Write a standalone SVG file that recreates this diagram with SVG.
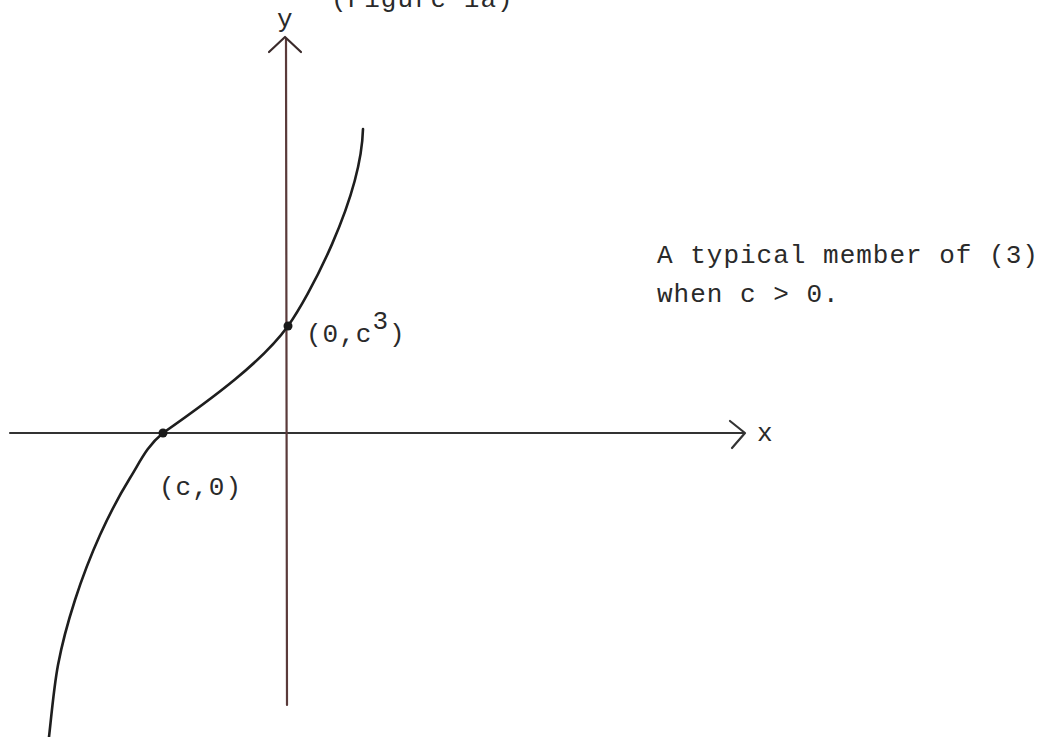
<svg xmlns="http://www.w3.org/2000/svg" width="1039" height="737" viewBox="0 0 1039 737">
<style>
.t{font-family:"Liberation Mono","Courier New",monospace;font-size:26px;letter-spacing:1px;fill:#2a2a2a}
.ax{fill:none;stroke-width:2.2;stroke-linecap:round;stroke-linejoin:round}
.curve{fill:none;stroke:#1e1e1e;stroke-width:2.6;stroke-linecap:round}
.dot{fill:#1a1a1a}
</style>
<rect x="0" y="0" width="1039" height="737" fill="#ffffff"/>
<g id="title"><text class="t" x="331" y="7">(Figure 1a)</text></g>
<g id="connectors">
  <g id="x-axis">
    <line class="ax" stroke="#333333" x1="10" y1="433" x2="744" y2="433"/>
    <polyline class="ax" stroke="#333333" points="730,421 745,433 732,448"/>
  </g>
  <g id="y-axis">
    <line class="ax" stroke="#5a3a3a" x1="286" y1="39" x2="287" y2="705"/>
    <polyline class="ax" stroke="#3a2a2a" points="269,52 285,37 301,52"/>
  </g>
  <path id="curve" class="curve" d="M363,129 C361,200 308,298 288,326 C263,361 213,398 163,433 C147,446 140.5,461 130,478 C119.5,495 109.2,514.7 100,535 C90.8,555.3 82,578.3 75,600 C68,621.7 62.3,642.2 58,665 C53.7,687.8 50.5,725 49,737"/>
</g>
<g id="label-y"><text class="t" x="277" y="27">y</text></g>
<g id="label-x"><text class="t" x="757" y="441">x</text></g>
<g id="point-c0">
  <circle class="dot" cx="163" cy="433" r="4.5"/>
  <text class="t" x="159" y="495">(c,0)</text>
</g>
<g id="point-0c3">
  <circle class="dot" cx="288" cy="326" r="4.5"/>
  <text class="t" x="306" y="342">(0,c<tspan dy="-13">3</tspan><tspan dy="13">)</tspan></text>
</g>
<g id="caption">
  <text class="t" x="657" y="263">A typical member of (3)</text>
  <text class="t" x="657" y="302">when c &gt; 0.</text>
</g>
</svg>
